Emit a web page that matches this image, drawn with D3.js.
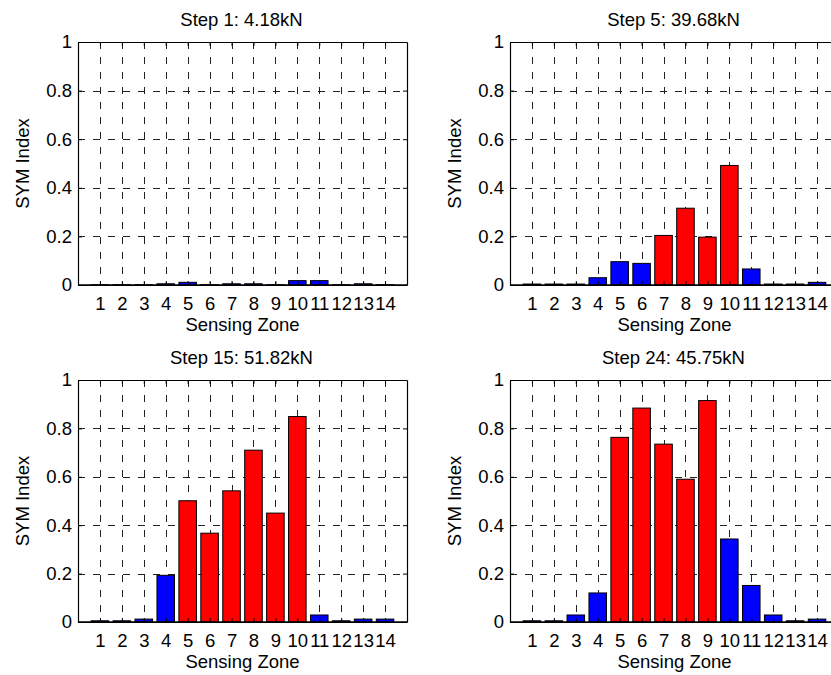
<!DOCTYPE html>
<html>
<head>
<meta charset="utf-8">
<script src="https://cdn.jsdelivr.net/npm/d3@7"></script>
<style>
  html, body { margin: 0; padding: 0; background: #fff; }
  svg { display: block; }
  text { font-family: "Liberation Sans", Arial, Helvetica, sans-serif; fill: #000; }
</style>
</head>
<body>
<svg id="chart" width="831" height="675"></svg>
<script>
// ---- data ----
const zones = [1, 2, 3, 4, 5, 6, 7, 8, 9, 10, 11, 12, 13, 14];
const yTicks = [0, 0.2, 0.4, 0.6, 0.8, 1];
const yTickLabels = ["0", "0.2", "0.4", "0.6", "0.8", "1"];

const titles = ["Step 1: 4.18kN", "Step 5: 39.68kN", "Step 15: 51.82kN", "Step 24: 45.75kN"];

const step1 = [0.001, 0.001, 0.001, 0.005, 0.011, 0.001, 0.005, 0.005, 0.001, 0.018, 0.018, 0.001, 0.005, 0.001];
const step5 = [0.004, 0.004, 0.004, 0.030, 0.096, 0.089, 0.204, 0.316, 0.197, 0.492, 0.066, 0.004, 0.004, 0.011];
const step15 = [0.005, 0.005, 0.012, 0.193, 0.501, 0.367, 0.542, 0.710, 0.450, 0.849, 0.029, 0.005, 0.012, 0.012];
const step24 = [0.005, 0.005, 0.029, 0.120, 0.763, 0.884, 0.735, 0.590, 0.915, 0.343, 0.151, 0.029, 0.005, 0.012];

// 1 = red (highlighted zone), 0 = blue
const hot1 = [0, 0, 0, 0, 0, 0, 0, 0, 0, 0, 0, 0, 0, 0];
const hot5 = [0, 0, 0, 0, 0, 0, 1, 1, 1, 1, 0, 0, 0, 0];
const hot15 = [0, 0, 0, 0, 1, 1, 1, 1, 1, 1, 0, 0, 0, 0];
const hot24 = [0, 0, 0, 0, 1, 1, 1, 1, 1, 0, 0, 0, 0, 0];

const seriesList = [step1, step5, step15, step24];
const hotList = [hot1, hot5, hot15, hot24];

const xLabel = "Sensing Zone";
const yLabel = "SYM Index";

// ---- layout ----
const svg = d3.select("#chart");
const W = 329;
const panels = [
  { left: 78, top: 42, h: 243 },
  { left: 510, top: 42, h: 243 },
  { left: 78, top: 380, h: 242 },
  { left: 510, top: 380, h: 242 }
];
const FS = 18.5;

panels.forEach((p, i) => {
  const data = seriesList[i];
  const hot = hotList[i];
  const g = svg.append("g").attr("transform", `translate(${p.left},${p.top})`);

  const x = d3.scaleLinear().domain([0, 15]).range([0, W]);
  const y = d3.scaleLinear().domain([0, 1]).range([p.h, 0]);
  const bw = x(0.8) - x(0);

  // grid
  const grid = g.append("g").attr("stroke", "#222").attr("stroke-width", 1)
    .attr("stroke-dasharray", "7,8");
  grid.selectAll("line.v").data(zones).join("line")
    .attr("x1", d => Math.round(x(d)) + 0.5).attr("x2", d => Math.round(x(d)) + 0.5)
    .attr("y1", 0).attr("y2", p.h);
  grid.selectAll("line.h").data(yTicks.slice(1, -1)).join("line")
    .attr("y1", d => Math.round(y(d)) + 0.5).attr("y2", d => Math.round(y(d)) + 0.5)
    .attr("x1", 0).attr("x2", W);

  // bars
  g.append("g").selectAll("rect").data(zones).join("rect")
    .attr("x", (d) => x(d) - bw / 2)
    .attr("width", bw)
    .attr("y", (d, k) => y(data[k]))
    .attr("height", (d, k) => y(0) - y(data[k]))
    .attr("fill", (d, k) => hot[k] ? "#ff0000" : "#0000ff")
    .attr("stroke", "#000")
    .attr("stroke-width", 1);

  // axes (box with inward ticks)
  const axB = d3.axisBottom(x).tickValues(zones).tickSizeInner(-4).tickSizeOuter(0).tickPadding(12);
  g.append("g").attr("transform", `translate(0,${p.h})`).call(axB);
  const axL = d3.axisLeft(y).tickValues(yTicks).tickFormat((d, k) => yTickLabels[k])
    .tickSizeInner(-4).tickSizeOuter(0).tickPadding(6);
  g.append("g").call(axL);
  const axT = d3.axisTop(x).tickValues(zones).tickSizeInner(-4).tickSizeOuter(0).tickFormat("");
  g.append("g").call(axT);
  const axR = d3.axisRight(y).tickValues(yTicks).tickSizeInner(-4).tickSizeOuter(0).tickFormat("");
  g.append("g").attr("transform", `translate(${W},0)`).call(axR);

  g.selectAll(".domain").attr("stroke", "#000").attr("stroke-width", 1.2);
  g.selectAll(".tick line").attr("stroke", "#000");
  g.selectAll(".tick text").attr("font-size", FS)
    .attr("font-family", '"Liberation Sans", Arial, sans-serif').attr("fill", "#000");
  // baseline
  g.append("line").attr("x1", 0).attr("x2", W).attr("y1", y(0)).attr("y2", y(0))
    .attr("stroke", "#000").attr("stroke-width", 1.5);

  // title
  g.append("text").attr("x", W / 2 - 1).attr("y", -22.5).attr("dy", "0.35em")
    .attr("text-anchor", "middle").attr("font-size", FS).text(titles[i]);
  // x label
  g.append("text").attr("x", W / 2).attr("y", p.h + 40).attr("dy", "0.35em")
    .attr("text-anchor", "middle").attr("font-size", FS).text(xLabel);
  // y label
  g.append("text").attr("transform", `translate(-55,${p.h / 2}) rotate(-90)`).attr("dy", "0.35em")
    .attr("text-anchor", "middle").attr("font-size", FS).text(yLabel);
});
</script>
</body>
</html>
